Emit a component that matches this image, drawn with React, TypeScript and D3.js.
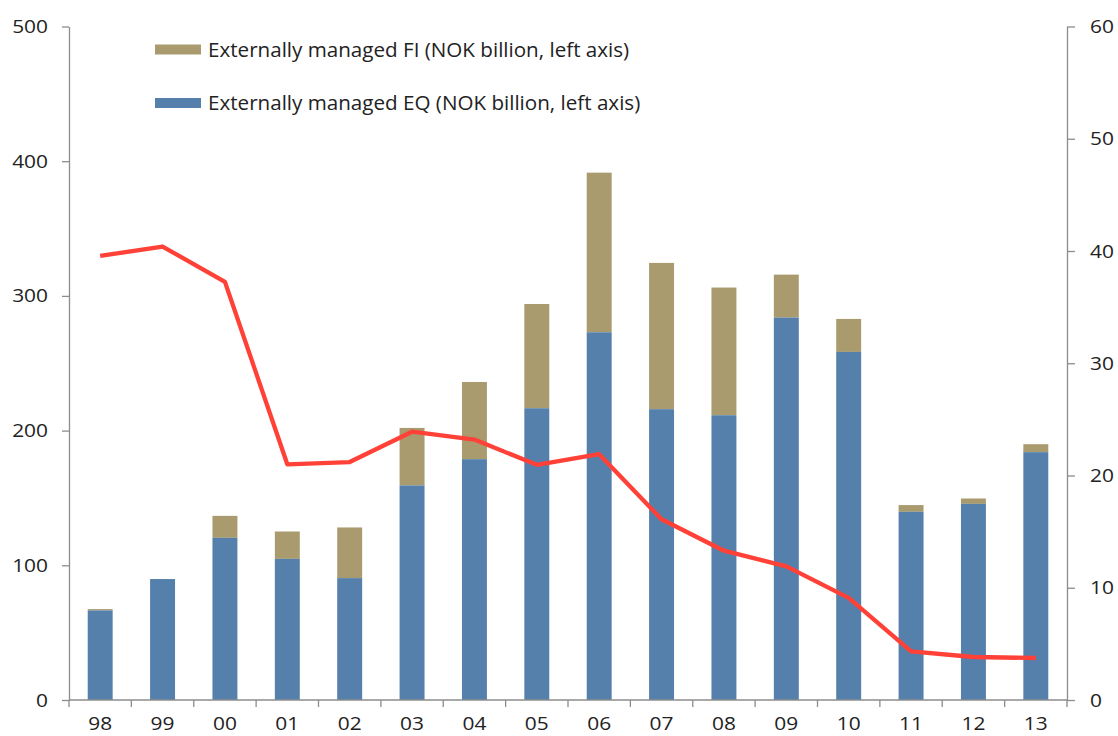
import { useEffect, useRef } from "react";
import * as d3 from "d3";

const years = ["98", "99", "00", "01", "02", "03", "04", "05", "06", "07", "08", "09", "10", "11", "12", "13"];
const eqValues = [66.5, 89.8, 120.4, 104.8, 90.5, 159.3, 178.8, 216.6, 273, 215.9, 211.4, 283.9, 258.4, 139.7, 145.6, 184];
const totalValues = [67.5, 89.8, 136.7, 125.1, 128.1, 202, 236.1, 294, 391.5, 324.5, 306.2, 315.8, 282.9, 144.7, 149.6, 189.9];
const lineValues = [39.56, 40.4, 37.25, 21.0, 21.2, 23.9, 23.2, 20.95, 21.9, 16.1, 13.3, 11.9, 9.1, 4.33, 3.83, 3.74];
const leftTicks = [0, 100, 200, 300, 400, 500];
const rightTicks = [0, 10, 20, 30, 40, 50, 60];
const legendLabels = [
  "Externally managed FI (NOK billion, left axis)",
  "Externally managed EQ (NOK billion, left axis)",
];

const W = 1118;
const H = 736;
const FONT = "'Open Sans', sans-serif";
const BLUE = "#5480ab";
const TAN = "#a99b6e";
const RED = "#ff4137";
const AXIS = "#8c8c8c";

// stretch text horizontally a bit, the source font is wider than Open Sans
function stretch(sel: d3.Selection<any, any, any, any>, k: number) {
  sel.each(function () {
    const t = this as SVGTextElement;
    const len = t.getComputedTextLength();
    t.setAttribute("textLength", String(len * k));
    t.setAttribute("lengthAdjust", "spacingAndGlyphs");
  });
}

export default function App() {
  const svgRef = useRef<SVGSVGElement>(null);

  useEffect(() => {
    const svgEl = svgRef.current;
    if (!svgEl) return;
    document.body.style.margin = "0";

    const margin = { top: 26.5, right: 51, bottom: 36, left: 69 };
    const innerW = W - margin.left - margin.right;
    const innerH = H - margin.top - margin.bottom;

    const svg = d3.select(svgEl);
    svg.selectAll("*").remove();
    const g = svg.append("g").attr("transform", `translate(${margin.left},${margin.top})`);

    const x = d3.scaleBand<string>().domain(years).range([0, innerW]).paddingInner(0.6).paddingOuter(0.3);
    const yL = d3.scaleLinear().domain([0, 500]).range([innerH, 0]);
    const yR = d3.scaleLinear().domain([0, 60]).range([innerH, 0]);

    // bars: FI stacked on top of EQ
    g.selectAll(".fi")
      .data(years)
      .join("rect")
      .attr("x", (d) => x(d)!)
      .attr("width", x.bandwidth())
      .attr("y", (_, i) => yL(totalValues[i]))
      .attr("height", (_, i) => yL(eqValues[i]) - yL(totalValues[i]))
      .attr("fill", TAN);
    g.selectAll(".eq")
      .data(years)
      .join("rect")
      .attr("x", (d) => x(d)!)
      .attr("width", x.bandwidth())
      .attr("y", (_, i) => yL(eqValues[i]))
      .attr("height", (_, i) => innerH - yL(eqValues[i]))
      .attr("fill", BLUE);

    // axes
    const styleAxis = (sel: d3.Selection<SVGGElement, unknown, null, undefined>) => {
      sel.select(".domain").attr("stroke", AXIS).attr("stroke-width", 1.3);
      sel.selectAll(".tick line").attr("stroke", AXIS).attr("stroke-width", 1.3);
      const txt = sel
        .selectAll(".tick text")
        .attr("fill", "#222")
        .style("font-family", FONT)
        .style("font-size", "19px");
      stretch(txt, 1.1);
    };

    const left = g.append("g").call(
      d3.axisLeft(yL).tickValues(leftTicks).tickSize(7).tickSizeOuter(0).tickPadding(14)
    );
    styleAxis(left);

    const right = g
      .append("g")
      .attr("transform", `translate(${innerW},0)`)
      .call(d3.axisRight(yR).tickValues(rightTicks).tickSize(8).tickSizeOuter(0).tickPadding(15));
    styleAxis(right);

    const step = x.step();
    const boundaries = d3.range(years.length + 1).map((i) => i * step);
    const bottom = g.append("g").attr("transform", `translate(0,${innerH})`);
    bottom.append("line").attr("x1", 0).attr("x2", innerW).attr("stroke", AXIS).attr("stroke-width", 1.3);
    bottom
      .selectAll(".btick")
      .data(boundaries)
      .join("line")
      .attr("x1", (d) => d)
      .attr("x2", (d) => d)
      .attr("y1", 0)
      .attr("y2", 7)
      .attr("stroke", AXIS)
      .attr("stroke-width", 1.3);
    const blabels = bottom
      .selectAll(".blabel")
      .data(years)
      .join("text")
      .attr("x", (d) => x(d)! + x.bandwidth() / 2)
      .attr("y", 30)
      .attr("text-anchor", "middle")
      .attr("fill", "#222")
      .style("font-family", FONT)
      .style("font-size", "19px")
      .text((d) => d);
    stretch(blabels, 1.1);

    // line on right axis
    const line = d3
      .line<number>()
      .x((_, i) => x(years[i])! + x.bandwidth() / 2)
      .y((d) => yR(d));
    g.append("path")
      .datum(lineValues)
      .attr("fill", "none")
      .attr("stroke", RED)
      .attr("stroke-width", 4.3)
      .attr("stroke-linejoin", "round")
      .attr("d", line);

    // legend
    const legend = svg.append("g");
    const colors = [TAN, BLUE];
    legendLabels.forEach((lab, i) => {
      const cy = 49.5 + i * 53.5;
      legend.append("rect").attr("x", 155).attr("y", cy - 5).attr("width", 46).attr("height", 10).attr("fill", colors[i]);
      const t = legend
        .append("text")
        .attr("x", 208)
        .attr("y", cy)
        .attr("dy", "0.36em")
        .attr("fill", "#222")
        .style("font-family", FONT)
        .style("font-size", "20px")
        .text(lab);
      stretch(t, 1.03);
    });
  }, []);

  return (
    <svg
      ref={svgRef}
      width={W}
      height={H}
      style={{ display: "block", position: "absolute", left: 0, top: 0, background: "#fff" }}
    />
  );
}
